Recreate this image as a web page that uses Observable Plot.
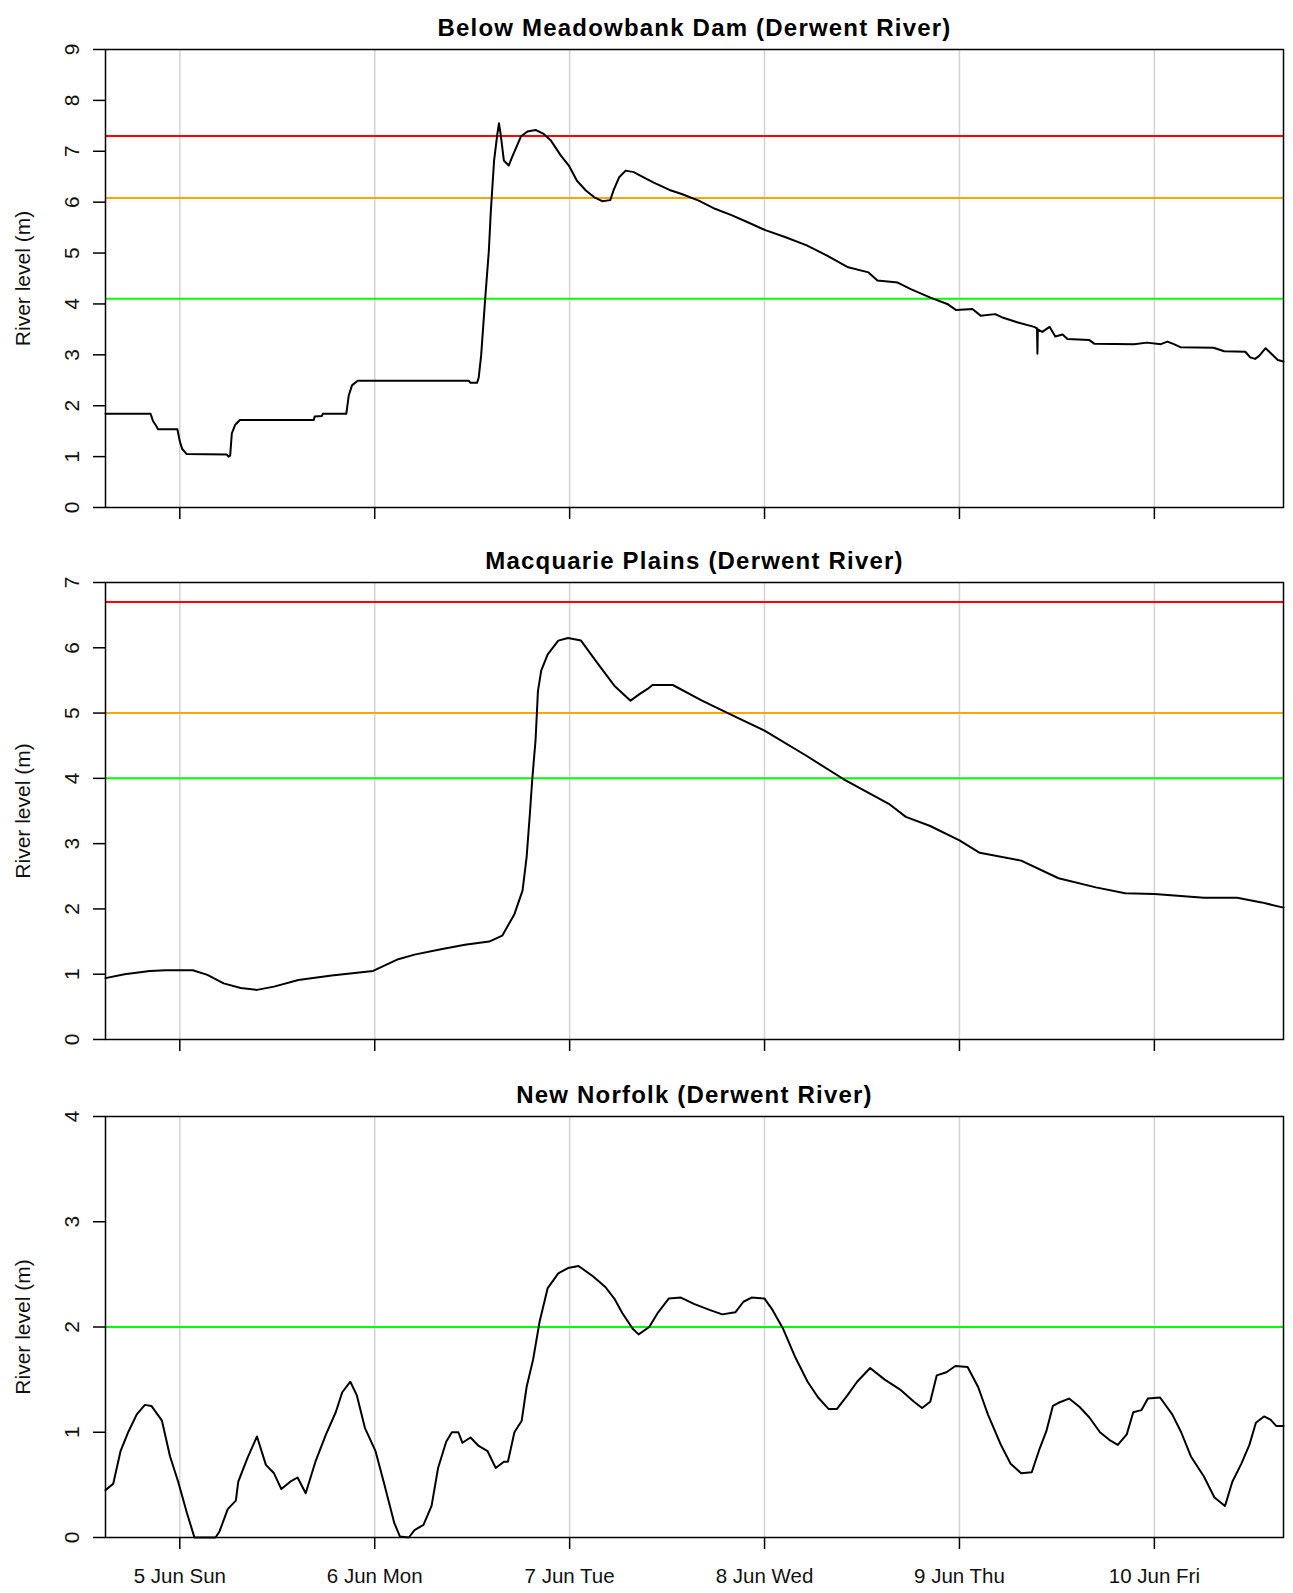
<!DOCTYPE html>
<html>
<head>
<meta charset="utf-8">
<script src="https://cdn.jsdelivr.net/npm/d3@7"></script>
<script src="https://cdn.jsdelivr.net/npm/@observablehq/plot@0.6"></script>
<style>
  body { margin: 0; background: #fff; }
  #chart svg { display: block; }
</style>
</head>
<body>
<div id="chart"></div>
<script>
// ---- Data (hours relative to 5 Jun 2016 00:00) ----
const baseDate = Date.UTC(2016, 5, 5);
const domainHours = [-9.15, 135.9];
const dayTickHours = [0, 24, 48, 72, 96, 120];
const dayTickLabels = ["5 Jun Sun", "6 Jun Mon", "7 Jun Tue", "8 Jun Wed", "9 Jun Thu", "10 Jun Fri"];
const yAxisTitle = "River level (m)";

const panelTitles = [
  "Below Meadowbank Dam (Derwent River)",
  "Macquarie Plains (Derwent River)",
  "New Norfolk (Derwent River)"
];

const meadowbankHours = [-9.15, -3.6, -3.3, -2.9, -2.7, -0.3, 0.0, 0.3, 0.85, 5.8, 6.0, 6.2, 6.4, 6.8, 7.4,
  16.5, 16.6, 17.5, 17.6, 20.5, 20.8, 21.2, 21.9, 35.6, 35.8, 36.6, 36.8, 37.1, 37.6, 38.05, 38.3, 38.5,
  38.7, 39.1, 39.3, 39.5, 39.9, 40.5, 40.9, 41.6, 42.0, 42.8, 43.8, 44.8, 45.7, 46.9, 47.9, 48.9, 50.0,
  51.0, 52.0, 53.0, 53.4, 54.1, 54.9, 55.9, 56.7, 58.3, 60.3, 61.8, 63.9, 65.9, 68.0, 70.0, 72.1, 74.6,
  77.2, 79.7, 82.3, 84.8, 85.9, 88.4, 90.0, 92.5, 94.5, 95.6, 97.6, 98.6, 100.4, 101.2, 103.1, 105.2,
  105.55, 105.6, 105.65, 106.2, 107.1, 107.8, 108.7, 109.3, 112.0, 112.6, 117.5, 119.1, 120.8, 121.6,
  122.4, 123.2, 127.3, 128.6, 131.2, 131.8, 132.4, 132.9, 133.7, 134.4, 135.2, 135.9];
const meadowbankLevels = [1.84, 1.84, 1.70, 1.60, 1.54, 1.54, 1.30, 1.15, 1.05, 1.04, 1.00, 1.02, 1.45, 1.62, 1.72,
  1.72, 1.79, 1.80, 1.84, 1.84, 2.2, 2.40, 2.49, 2.49, 2.45, 2.45, 2.55, 2.98, 4.1, 5.04, 5.83, 6.33,
  6.82, 7.34, 7.55, 7.34, 6.82, 6.72, 6.88, 7.14, 7.29, 7.39, 7.42, 7.34, 7.21, 6.92, 6.72, 6.42, 6.23,
  6.10, 6.02, 6.04, 6.23, 6.49, 6.62, 6.59, 6.52, 6.39, 6.24, 6.16, 6.03, 5.87, 5.74, 5.60, 5.45, 5.31,
  5.15, 4.95, 4.72, 4.62, 4.46, 4.42, 4.29, 4.12, 4.00, 3.88, 3.90, 3.77, 3.80, 3.74, 3.64, 3.55,
  3.52, 3.02, 3.50, 3.45, 3.55, 3.36, 3.40, 3.31, 3.29, 3.22, 3.21, 3.24, 3.21, 3.26,
  3.21, 3.15, 3.14, 3.07, 3.06, 2.95, 2.92, 2.98, 3.13, 3.02, 2.90, 2.87];

const macquarieHours = [-9.15, -6.8, -3.7, -1.7, 1.6, 3.4, 5.4, 7.5, 9.5, 11.6, 14.6, 18.7, 23.8, 26.9, 28.9,
  32.0, 35.1, 38.1, 39.7, 41.2, 42.2, 42.7, 43.1, 43.4, 43.8, 44.1, 44.5, 45.3, 46.6, 47.8, 49.4, 51.4,
  53.5, 55.5, 56.6, 57.6, 58.2, 60.7, 64.3, 67.8, 72.0, 77.1, 81.7, 87.3, 89.4, 92.4, 96.0, 98.5, 103.6,
  108.2, 112.8, 116.4, 120.0, 126.1, 130.2, 133.2, 135.9];
const macquarieLevels = [0.94, 1.00, 1.05, 1.06, 1.06, 0.99, 0.86, 0.79, 0.76, 0.81, 0.91, 0.98, 1.05, 1.23, 1.30,
  1.38, 1.45, 1.50, 1.59, 1.92, 2.28, 2.79, 3.45, 3.99, 4.58, 5.34, 5.65, 5.90, 6.11, 6.15, 6.11, 5.77,
  5.42, 5.19, 5.29, 5.37, 5.43, 5.43, 5.19, 4.98, 4.73, 4.35, 3.99, 3.61, 3.41, 3.27, 3.05, 2.86, 2.74,
  2.47, 2.33, 2.24, 2.23, 2.17, 2.17, 2.10, 2.02];

const norfolkHours = [-9.15, -8.2, -7.3, -6.3, -5.3, -4.3, -3.5, -2.2, -1.2, -0.2, 0.85, 1.8, 4.4, 4.9, 5.9,
  6.9, 7.2, 8.3, 9.5, 10.6, 11.6, 12.5, 13.6, 14.5, 15.5, 16.7, 18.0, 19.2, 20.0, 21.0, 21.8, 22.8, 24.1,
  25.1, 26.4, 27.1, 28.2, 28.9, 30.0, 31.0, 31.8, 32.8, 33.5, 34.3, 34.8, 35.8, 36.8, 37.9, 38.9, 39.9,
  40.4, 41.2, 42.1, 42.7, 43.5, 44.3, 45.3, 46.6, 47.8, 49.1, 50.9, 52.4, 53.5, 54.5, 55.8, 56.5, 57.8,
  58.9, 60.2, 61.7, 63.3, 65.3, 66.8, 68.4, 69.4, 70.4, 72.0, 73.0, 74.3, 75.8, 77.3, 78.6, 79.9, 80.9,
  82.2, 83.4, 85.0, 86.8, 88.8, 90.4, 91.4, 92.4, 93.2, 94.4, 95.5, 97.0, 98.3, 99.5, 101.1, 102.3, 103.6,
  104.9, 105.9, 106.7, 107.5, 108.2, 109.5, 110.8, 112.0, 113.3, 114.6, 115.5, 116.6, 117.4, 118.4, 119.2,
  120.7, 122.2, 123.3, 124.5, 126.1, 127.4, 128.7, 129.6, 130.7, 131.7, 132.5, 133.5, 134.3, 135.0, 135.9];
const norfolkLevels = [0.45, 0.51, 0.82, 1.01, 1.17, 1.26, 1.25, 1.11, 0.77, 0.53, 0.24, 0, 0, 0.06, 0.27,
  0.35, 0.53, 0.75, 0.96, 0.69, 0.61, 0.46, 0.53, 0.57, 0.42, 0.72, 0.98, 1.19, 1.38, 1.48, 1.35, 1.04, 0.82,
  0.53, 0.14, 0.01, 0.0, 0.07, 0.12, 0.30, 0.66, 0.91, 1.00, 1.00, 0.90, 0.95, 0.87, 0.82, 0.66, 0.72,
  0.72, 1.00, 1.11, 1.43, 1.69, 2.05, 2.37, 2.51, 2.56, 2.58, 2.48, 2.38, 2.27, 2.13, 1.98, 1.93, 2.00,
  2.14, 2.27, 2.28, 2.22, 2.16, 2.12, 2.14, 2.24, 2.28, 2.27, 2.16, 1.98, 1.71, 1.48, 1.33, 1.22, 1.22,
  1.35, 1.48, 1.61, 1.50, 1.40, 1.29, 1.23, 1.29, 1.54, 1.57, 1.63, 1.62, 1.43, 1.17, 0.88, 0.70, 0.61,
  0.62, 0.85, 1.01, 1.25, 1.28, 1.32, 1.24, 1.14, 1.00, 0.92, 0.88, 0.98, 1.19, 1.21, 1.32,
  1.33, 1.17, 1.00, 0.77, 0.58, 0.38, 0.30, 0.53, 0.70, 0.88, 1.09, 1.15, 1.12, 1.06, 1.06];

// warning levels per site
const meadowbankThresholds = [7.3, 6.08, 4.1];
const macquarieThresholds = [6.7, 5.0, 4.0];
const norfolkThresholds = [2.0];
const thresholdColors = ["#ff0000", "#ffa500", "#00ff00"];
const norfolkThresholdColors = ["#00ff00"];

const yMaxes = [9, 7, 4];

// ---- Drawing ----
const FONT = "'Liberation Sans', Arial, 'DejaVu Sans', sans-serif";
const toDate = h => new Date(baseDate + h * 3600e3);
const tickDates = dayTickHours.map(toDate);
const labelByTime = new Map(tickDates.map((d, i) => [+d, dayTickLabels[i]]));

function panel({title, hours, levels, yMax, thresholds, colors, height, marginTop, marginBottom, showLabels}) {
  const data = hours.map((h, i) => ({t: toDate(h), v: levels[i]}));
  const thr = thresholds.map((v, i) => ({v, c: colors[i]}));
  const svg = Plot.plot({
    width: 1293,
    height,
    marginLeft: 105,
    marginRight: 10,
    marginTop,
    marginBottom,
    style: {fontFamily: FONT, background: "#fff", display: "block", overflow: "visible", color: "black"},
    x: {type: "utc", domain: domainHours.map(toDate)},
    y: {domain: [0, yMax]},
    marks: [
      Plot.ruleX(tickDates, {stroke: "#d3d3d3", strokeWidth: 1.5}),
      Plot.ruleY(thr, {y: "v", stroke: "c", strokeWidth: 2}),
      Plot.line(data, {x: "t", y: "v", stroke: "black", strokeWidth: 2}),
      Plot.frame({stroke: "black", strokeWidth: 1.5}),
      Plot.axisY(d3.range(0, yMax + 1), {
        tickSize: 12, tickPadding: 15, tickRotate: -90, fontSize: 21,
        tickFormat: d3.format("d"),
        label: null, strokeWidth: 1.5, fill: "#111"
      }),
      Plot.axisX(tickDates, {
        tickSize: 12, tickPadding: 19, fontSize: 20.5, label: null, strokeWidth: 1.5, fill: "#111",
        tickFormat: showLabels ? (d => labelByTime.get(+d) ?? "") : (() => "")
      }),
      Plot.text([title], {
        frameAnchor: "top", dy: -14, lineAnchor: "bottom", text: d => d,
        fontSize: 24, fontWeight: "bold", fill: "black"
      }),
      Plot.text([yAxisTitle], {
        frameAnchor: "left", dx: -76, rotate: -90, lineAnchor: "bottom", textAnchor: "middle",
        text: d => d, fontSize: 21, fill: "#111"
      })
    ]
  });
  d3.select(svg).selectAll("text").filter(function() { return this.textContent === title; })
    .style("letter-spacing", "1.2px");
  return svg;
}

const chart = document.getElementById("chart");
chart.appendChild(panel({
  title: panelTitles[0], hours: meadowbankHours, levels: meadowbankLevels, yMax: yMaxes[0],
  thresholds: meadowbankThresholds, colors: thresholdColors,
  height: 535, marginTop: 49, marginBottom: 28, showLabels: false
}));
chart.appendChild(panel({
  title: panelTitles[1], hours: macquarieHours, levels: macquarieLevels, yMax: yMaxes[1],
  thresholds: macquarieThresholds, colors: thresholdColors,
  height: 527, marginTop: 47, marginBottom: 23, showLabels: false
}));
chart.appendChild(panel({
  title: panelTitles[2], hours: norfolkHours, levels: norfolkLevels, yMax: yMaxes[2],
  thresholds: norfolkThresholds, colors: norfolkThresholdColors,
  height: 531, marginTop: 54, marginBottom: 56, showLabels: true
}));
</script>
</body>
</html>
